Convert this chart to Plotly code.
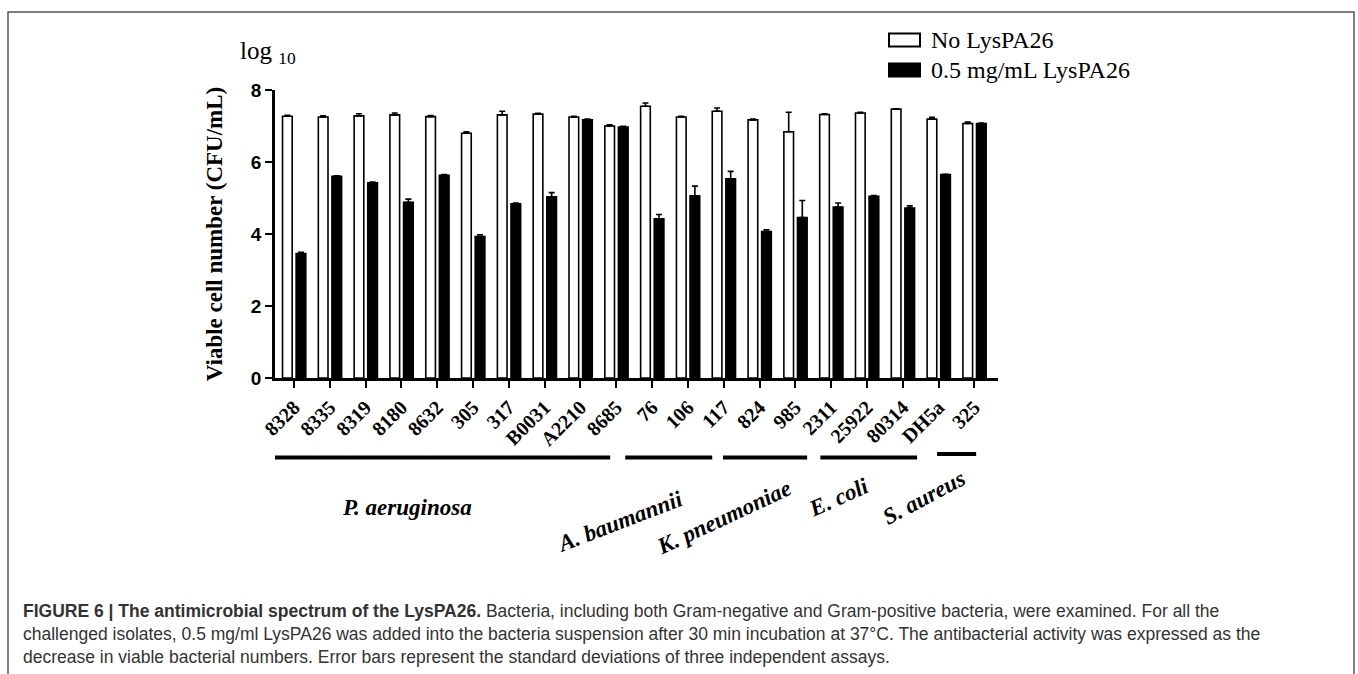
import plotly.graph_objects as go

strains = ["8328", "8335", "8319", "8180", "8632", "305", "317", "B0031", "A2210", "8685",
           "76", "106", "117", "824", "985", "2311", "25922", "80314", "DH5a", "325"]
series_names = ["No LysPA26", "0.5 mg/mL LysPA26"]
no_lys = [7.27, 7.25, 7.28, 7.31, 7.26, 6.80, 7.31, 7.33, 7.25, 7.00,
          7.55, 7.25, 7.41, 7.17, 6.84, 7.32, 7.36, 7.47, 7.19, 7.07]
no_lys_err = [0.03, 0.03, 0.06, 0.05, 0.03, 0.04, 0.10, 0.02, 0.02, 0.03,
              0.09, 0.02, 0.09, 0.02, 0.54, 0.02, 0.02, 0.01, 0.05, 0.04]
lys = [3.46, 5.60, 5.42, 4.88, 5.63, 3.93, 4.84, 5.03, 7.17, 6.97,
       4.42, 5.06, 5.53, 4.07, 4.46, 4.75, 5.05, 4.72, 5.65, 7.07]
lys_err = [0.03, 0.02, 0.02, 0.09, 0.02, 0.05, 0.02, 0.12, 0.02, 0.02,
           0.12, 0.27, 0.21, 0.05, 0.47, 0.11, 0.02, 0.06, 0.01, 0.01]
y_ticks = [0, 2, 4, 6, 8]
species = ["P. aeruginosa", "A. baumannii", "K. pneumoniae", "E. coli", "S. aureus"]

caption_lines = [
    "<b>FIGURE 6 | The antimicrobial spectrum of the LysPA26.</b> Bacteria, including both Gram-negative and Gram-positive bacteria, were examined. For all the",
    "challenged isolates, 0.5 mg/ml LysPA26 was added into the bacteria suspension after 30 min incubation at 37°C. The antibacterial activity was expressed as the",
    "decrease in viable bacterial numbers. Error bars represent the standard deviations of three independent assays.",
]

# layout helpers (pixel geometry of the figure)
W, H = 1358, 674
L, R, T, B = 275, 998, 90, 378
x_idx = list(range(len(strains)))


def px(xp):
    return (xp - L) / (R - L)


def py(yp):
    return (B - yp) / (B - T)


SERIF = "Liberation Serif, Times New Roman, serif"
SANS = "Liberation Sans, Arial, sans-serif"
fills = ["white", "black"]

fig = go.Figure()
fig.add_trace(go.Bar(
    x=x_idx, y=no_lys, name=series_names[0], showlegend=False,
    width=0.27, offset=-0.32,
    marker=dict(color=fills[0], line=dict(color="black", width=1.6)),
    error_y=dict(type="data", array=no_lys_err, arrayminus=[0] * len(no_lys),
                 symmetric=False, color="black", thickness=1.6, width=3),
))
fig.add_trace(go.Bar(
    x=x_idx, y=lys, name=series_names[1], showlegend=False,
    width=0.27, offset=0.06,
    marker=dict(color=fills[1], line=dict(color="black", width=1.6)),
    error_y=dict(type="data", array=lys_err, arrayminus=[0] * len(lys),
                 symmetric=False, color="black", thickness=1.6, width=3),
))

shapes = []
annotations = []

# legend (drawn as boxes + labels to match the wide swatches)
for i, (name, fc) in enumerate(zip(series_names, fills)):
    yc = 40 + 30 * i
    shapes.append(dict(type="rect", xref="paper", yref="paper",
                       x0=px(889), x1=px(920), y0=py(yc + 6.5), y1=py(yc - 6.5),
                       line=dict(color="black", width=2), fillcolor=fc))
    annotations.append(dict(text=name, xref="paper", yref="paper",
                            x=px(929), y=py(yc), xanchor="left", yanchor="middle",
                            showarrow=False, font=dict(family=SERIF, size=24, color="black")))

# species group lines and labels (x in data index units)
group_lines = [(-1.06, 8.83, 457.5), (9.25, 11.68, 457.5), (11.98, 14.33, 457.5),
               (14.7, 17.4, 457.5), (17.96, 19.05, 454)]
group_label_pos = [(3.16, 507, 0), (9.1, 521, -21), (12.0, 517, -25),
                   (15.2, 497, -24), (17.6, 497, -28)]
for (x0, x1, yl) in group_lines:
    shapes.append(dict(type="line", xref="x", yref="paper", x0=x0, x1=x1,
                       y0=py(yl), y1=py(yl), line=dict(color="black", width=4)))
for name, (xc, yc, ang) in zip(species, group_label_pos):
    annotations.append(dict(text="<b><i>%s</i></b>" % name, xref="x", yref="paper",
                            x=xc, y=py(yc), showarrow=False, textangle=ang,
                            xanchor="center", yanchor="middle",
                            font=dict(family=SERIF, size=23, color="black")))

# log10 label
annotations.append(dict(text="log <sub>10</sub>", xref="paper", yref="paper",
                        x=px(238), y=py(52), xanchor="left", yanchor="middle",
                        showarrow=False, font=dict(family=SERIF, size=25, color="black")))

# caption
for i, line in enumerate(caption_lines):
    annotations.append(dict(text=line, xref="paper", yref="paper",
                            x=px(21), y=py(611 + 23 * i), xanchor="left", yanchor="middle",
                            showarrow=False, align="left",
                            font=dict(family=SANS, size=17.5, color="#333333")))

# outer frame
shapes.append(dict(type="rect", xref="paper", yref="paper",
                   x0=px(8), x1=px(1354), y0=py(690), y1=py(12),
                   line=dict(color="#555555", width=1.5), fillcolor="rgba(0,0,0,0)", layer="below"))

fig.update_layout(
    width=W, height=H,
    margin=dict(l=L, r=W - R, t=T, b=H - B, pad=0),
    paper_bgcolor="white", plot_bgcolor="white",
    barmode="overlay",
    showlegend=False,
    xaxis=dict(range=[-0.53, 19.66], tickmode="array", tickvals=x_idx,
               ticktext=["<b>%s</b>" % s for s in strains], tickangle=-45,
               ticks="outside", ticklen=7, tickwidth=2, tickcolor="black",
               showline=True, linecolor="black", linewidth=2.5, showgrid=False, zeroline=False,
               tickfont=dict(family=SERIF, size=20, color="black")),
    yaxis=dict(range=[0, 8], tickmode="array", tickvals=y_ticks,
               ticktext=["<b>%d</b>" % v for v in y_ticks],
               ticks="outside", ticklen=7, tickwidth=2, tickcolor="black",
               showline=True, linecolor="black", linewidth=2.5, showgrid=False, zeroline=False,
               tickfont=dict(family=SANS, size=19, color="black"),
               title=dict(text="<b>Viable cell number (CFU/mL)</b>", standoff=22,
                          font=dict(family=SERIF, size=23, color="black"))),
    shapes=shapes,
    annotations=annotations,
)

fig.write_html("out.html", config={"displayModeBar": False},
               post_script="document.body.style.margin='0px';")
